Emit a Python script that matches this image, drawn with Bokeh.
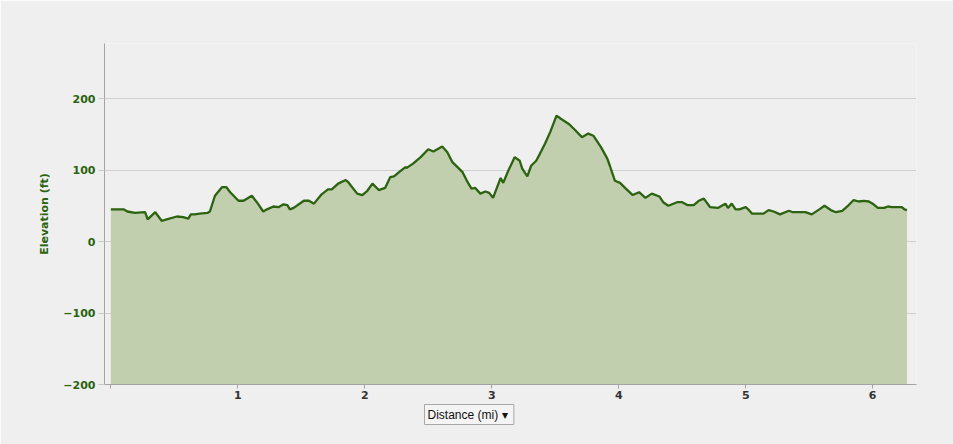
from bokeh.plotting import figure
from bokeh.embed import file_html
from bokeh.resources import INLINE
from bokeh.models import FixedTicker, Range1d, Title

# distance along the route (mi) and elevation (ft)
distance = [0.00, 0.10, 0.13, 0.19, 0.27, 0.29, 0.35, 0.40, 0.44, 0.52, 0.57, 0.61, 0.63, 0.66, 0.70,
            0.76, 0.78, 0.82, 0.875, 0.91, 0.94, 1.005, 1.045, 1.11, 1.15, 1.20, 1.23, 1.28, 1.32, 1.36,
            1.39, 1.41, 1.44, 1.52, 1.56, 1.60, 1.66, 1.71, 1.74, 1.79, 1.85, 1.87, 1.94, 1.98, 2.02,
            2.06, 2.11, 2.16, 2.20, 2.23, 2.27, 2.32, 2.33, 2.38, 2.44, 2.50, 2.54, 2.61, 2.65, 2.69,
            2.73, 2.77, 2.81, 2.84, 2.87, 2.91, 2.95, 2.98, 3.01, 3.07, 3.09, 3.13, 3.18, 3.22, 3.24,
            3.28, 3.31, 3.35, 3.38, 3.42, 3.46, 3.51, 3.55, 3.61, 3.65, 3.71, 3.76, 3.80, 3.86, 3.91,
            3.93, 3.97, 4.01, 4.05, 4.11, 4.16, 4.21, 4.26, 4.32, 4.35, 4.39, 4.46, 4.50, 4.54, 4.59,
            4.63, 4.67, 4.72, 4.78, 4.84, 4.86, 4.89, 4.92, 4.95, 5.00, 5.02, 5.05, 5.14, 5.18, 5.22,
            5.27, 5.34, 5.37, 5.41, 5.47, 5.52, 5.58, 5.62, 5.67, 5.71, 5.76, 5.80, 5.85, 5.89, 5.93,
            5.97, 6.00, 6.04, 6.09, 6.12, 6.15, 6.23, 6.25, 6.27]
elevation = [45, 45, 42, 40, 41, 31, 41, 29, 31, 35, 34, 32, 38, 38, 39,
             40, 42, 64, 76, 76, 69, 57, 57, 64, 55, 42, 45, 49, 48, 52,
             51, 45, 47, 57, 57, 53, 66, 73, 73, 81, 86, 83, 67, 65, 71,
             81, 72, 75, 90, 91, 97, 104, 103, 109, 118, 129, 126, 133, 125, 111,
             104, 97, 83, 74, 75, 67, 70, 68, 61, 89, 82, 99, 118, 113, 102,
             91, 106, 113, 123, 137, 153, 176, 171, 164, 157, 146, 151, 148, 132, 116,
             106, 85, 82, 75, 65, 69, 61, 67, 63, 55, 50, 55, 55, 51, 51,
             57, 60, 48, 47, 53, 47, 53, 45, 45, 48, 45, 39, 39, 44, 42,
             38, 43, 41, 41, 41, 38, 45, 50, 44, 41, 43, 49, 58, 56, 57,
             56, 53, 47, 47, 49, 48, 48, 45, 44]

x_ticks = [0, 1, 2, 3, 4, 5, 6]
y_ticks = [-200, -100, 0, 100, 200]
y_floor = -200

bg = "#efefef"
green = "#2b6310"

p = figure(width=953, height=444, output_backend="svg", toolbar_location=None,
           x_range=Range1d(-0.05, 6.345), y_range=Range1d(-200, 277),
           background_fill_color=bg, border_fill_color=bg, outline_line_color=None,
           min_border_left=104, min_border_right=37, min_border_top=43, min_border_bottom=60)

p.varea(x=distance, y1=y_floor, y2=elevation, fill_color="#c1cfae")
p.line(distance, elevation, line_color=green, line_width=2.3)

# y axis
p.yaxis.ticker = FixedTicker(ticks=y_ticks)
p.yaxis.axis_label = "Elevation (ft)"
p.yaxis.axis_label_text_font = "DejaVu Sans"
p.yaxis.axis_label_text_font_size = "11px"
p.yaxis.axis_label_text_font_style = "bold"
p.yaxis.axis_label_text_color = green
p.yaxis.axis_label_standoff = 9
p.yaxis.major_label_text_font = "DejaVu Sans"
p.yaxis.major_label_text_font_size = "11px"
p.yaxis.major_label_text_font_style = "bold"
p.yaxis.major_label_text_color = green
p.yaxis.major_label_standoff = 3
p.yaxis.axis_line_color = "#a4a4a4"
p.yaxis.major_tick_line_color = "#c8c8c8"
p.yaxis.major_tick_out = 6
p.yaxis.major_tick_in = 0
p.yaxis.minor_tick_line_color = None

# x axis
p.xaxis.ticker = FixedTicker(ticks=x_ticks)
p.xaxis.major_label_overrides = {0: ""}
p.xaxis.major_label_text_font = "DejaVu Sans"
p.xaxis.major_label_text_font_size = "11px"
p.xaxis.major_label_text_font_style = "bold"
p.xaxis.major_label_text_color = "#333333"
p.xaxis.major_label_standoff = 2
p.xaxis.axis_line_color = "#a4a4a4"
p.xaxis.major_tick_line_color = "#a4a4a4"
p.xaxis.major_tick_out = 4
p.xaxis.major_tick_in = 0
p.xaxis.minor_tick_line_color = None

p.xgrid.grid_line_color = None
p.ygrid.ticker = FixedTicker(ticks=y_ticks)
p.ygrid.grid_line_color = "#cfcfcf"

# the "Distance (mi)" selector box under the axis
box = Title(text="Distance (mi)  \u25be", align="left", offset=320, standoff=2,
            text_font="Liberation Sans", text_font_size="12px", text_font_style="normal",
            text_color="#111111", background_fill_color="#f4f4f4",
            border_line_color="#a8a8a8", padding=3)
p.add_layout(box, "below")

open("out.html", "w").write(file_html(p, INLINE))
